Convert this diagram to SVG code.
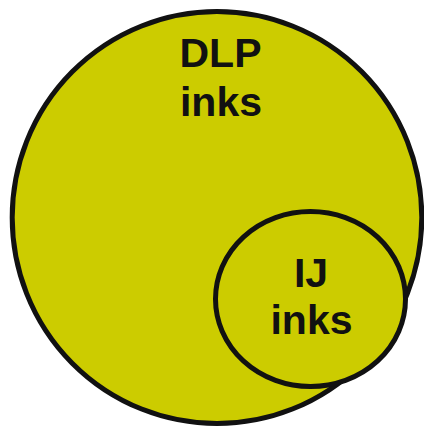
<svg xmlns="http://www.w3.org/2000/svg" width="424" height="427" viewBox="0 0 424 427">
  <style>
    .set { fill: #cccc00; stroke: #111111; stroke-width: 5; }
    .label { font-family: "Liberation Sans", Arial, sans-serif; font-weight: bold; font-size: 41px; fill: #111111; text-anchor: middle; }
  </style>
  <rect width="424" height="427" fill="#ffffff"/>
  <g id="dlp-inks">
    <ellipse class="set" cx="217" cy="217.5" rx="204.8" ry="206"/>
    <text class="label" x="220.5" y="67">DLP</text>
    <text class="label" x="221" y="116">inks</text>
  </g>
  <g id="ij-inks">
    <ellipse class="set" cx="310.5" cy="299" rx="95" ry="87.5"/>
    <text class="label" x="311" y="287">IJ</text>
    <text class="label" x="311.5" y="334">inks</text>
  </g>
  <g id="connectors"/>
</svg>
